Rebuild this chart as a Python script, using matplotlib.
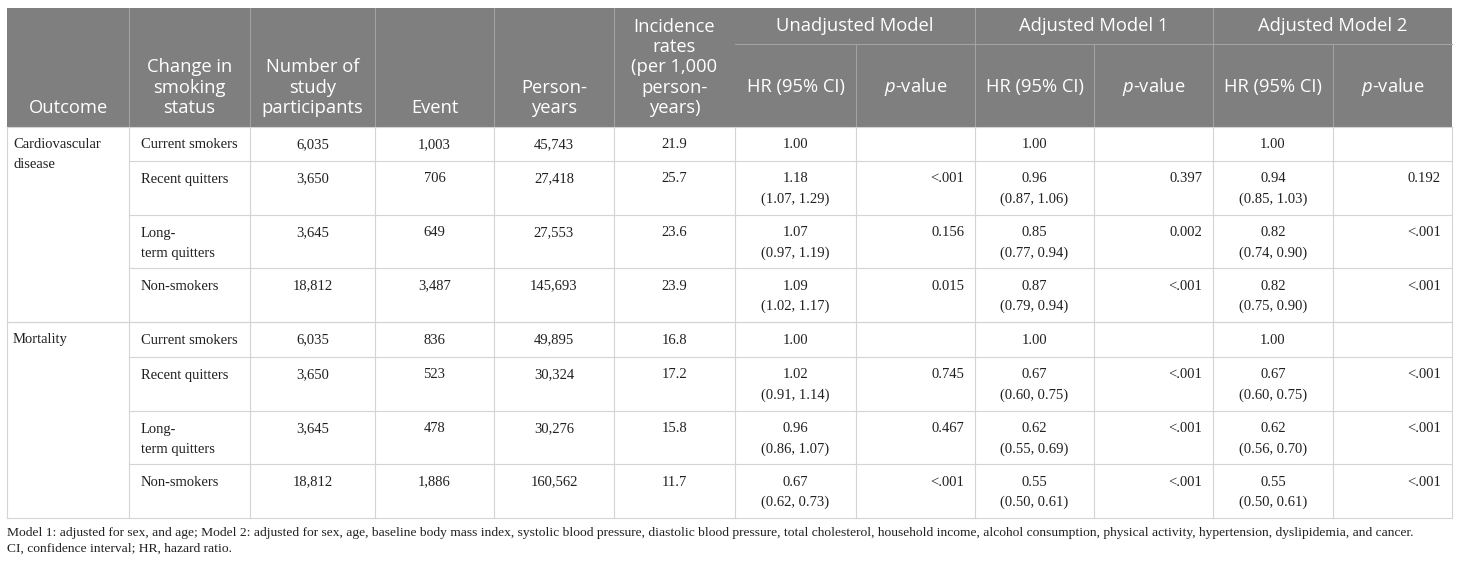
import matplotlib.pyplot as plt

plt.rcParams['mathtext.fontset'] = 'custom'
plt.rcParams['mathtext.it'] = 'Open Sans:italic'
plt.rcParams['mathtext.rm'] = 'Open Sans'

# data
outcomes = ['Cardiovascular\ndisease', 'Mortality']
status = ['Current smokers', 'Recent quitters', 'Long-\nterm quitters', 'Non-smokers']
participants = ['6,035', '3,650', '3,645', '18,812']
events = [['1,003', '706', '649', '3,487'],
          ['836', '523', '478', '1,886']]
person_years = [['45,743', '27,418', '27,553', '145,693'],
                ['49,895', '30,324', '30,276', '160,562']]
incidence = [['21.9', '25.7', '23.6', '23.9'],
             ['16.8', '17.2', '15.8', '11.7']]
hr_unadj = [['1.00', '1.18\n(1.07, 1.29)', '1.07\n(0.97, 1.19)', '1.09\n(1.02, 1.17)'],
            ['1.00', '1.02\n(0.91, 1.14)', '0.96\n(0.86, 1.07)', '0.67\n(0.62, 0.73)']]
p_unadj = [['', '<.001', '0.156', '0.015'],
           ['', '0.745', '0.467', '<.001']]
hr_adj1 = [['1.00', '0.96\n(0.87, 1.06)', '0.85\n(0.77, 0.94)', '0.87\n(0.79, 0.94)'],
           ['1.00', '0.67\n(0.60, 0.75)', '0.62\n(0.55, 0.69)', '0.55\n(0.50, 0.61)']]
p_adj1 = [['', '0.397', '0.002', '<.001'],
          ['', '<.001', '<.001', '<.001']]
hr_adj2 = [['1.00', '0.94\n(0.85, 1.03)', '0.82\n(0.74, 0.90)', '0.82\n(0.75, 0.90)'],
           ['1.00', '0.67\n(0.60, 0.75)', '0.62\n(0.56, 0.70)', '0.55\n(0.50, 0.61)']]
p_adj2 = [['', '0.192', '<.001', '<.001'],
          ['', '<.001', '<.001', '<.001']]

head_cols = ['Outcome', 'Change in\nsmoking\nstatus', 'Number of\nstudy\nparticipants', 'Event',
             'Person-\nyears', 'Incidence\nrates\n(per 1,000\nperson-\nyears)']
groups = ['Unadjusted Model', 'Adjusted Model 1', 'Adjusted Model 2']
sub_heads = ['HR (95% CI)', '$p$-value']
notes = ['Model 1: adjusted for sex, and age; Model 2: adjusted for sex, age, baseline body mass index, '
         'systolic blood pressure, diastolic blood pressure, total cholesterol, household income, alcohol '
         'consumption, physical activity, hypertension, dyslipidemia, and cancer.',
         'CI, confidence interval; HR, hazard ratio.']

# layout (pixels)
xs = [7, 129, 250, 375, 494, 614, 735, 856, 975, 1094, 1213, 1333, 1452]
head_top, head_mid, head_bot = 8, 44, 127
row_edges = [[127, 161, 215, 268, 322], [322, 357, 411, 464, 518]]
head_bg = '#7f7f7f'
head_line = '#a3a3a3'
grid = '#d4d4d4'
body_color = '#231f20'
serif = 'Liberation Serif'
sans = 'Open Sans'
body_fs = 10.5
head_fs = 13.2

fig = plt.figure(figsize=(14.6, 5.64), dpi=100)
ax = fig.add_axes([0, 0, 1, 1])
ax.set_xlim(0, 1460)
ax.set_ylim(564, 0)
ax.axis('off')

# header
ax.fill_between([xs[0], xs[-1]], head_top, head_bot, color=head_bg, lw=0)
for x in xs[1:6] + [xs[8], xs[10]]:
    ax.plot([x, x], [head_top, head_bot], color=head_line, lw=0.8)
for x in [xs[7], xs[9], xs[11]]:
    ax.plot([x, x], [head_mid, head_bot], color=head_line, lw=0.8)
ax.plot([xs[6], xs[-1]], [head_mid, head_mid], color=head_line, lw=0.8)

for i, label in enumerate(head_cols):
    lines = label.split('\n')
    cx = (xs[i] + xs[i + 1]) / 2
    for k, line in enumerate(lines):
        y = 108 - 20.3 * (len(lines) - 1 - k)
        ax.text(cx, y, line, ha='center', va='center', color='white',
                family=sans, fontsize=head_fs)
for g, label in enumerate(groups):
    cx = (xs[6 + 2 * g] + xs[8 + 2 * g]) / 2
    ax.text(cx, 26, label, ha='center', va='center', color='white', family=sans, fontsize=head_fs)
    for s, sub in enumerate(sub_heads):
        c = 6 + 2 * g + s
        ax.text((xs[c] + xs[c + 1]) / 2, 87, sub, ha='center', va='center', color='white',
                family=sans, fontsize=head_fs)


def cell(text, col, top, align='center'):
    for k, line in enumerate(text.split('\n')):
        y = top + 18 + 20 * k
        if align == 'center':
            x = (xs[col] + xs[col + 1]) / 2
        elif align == 'left':
            x = xs[col] + (6 if col == 0 else 12)
        else:
            x = xs[col + 1] - 11
        ax.text(x, y, line, ha=align, va='center', color=body_color, family=serif, fontsize=body_fs)


# body
for g in range(2):
    edges = row_edges[g]
    ax.plot([xs[0], xs[-1]], [edges[0], edges[0]], color=grid, lw=0.8)
    ax.plot([xs[0], xs[-1]], [edges[-1], edges[-1]], color=grid, lw=0.8)
    for y in edges[1:-1]:
        ax.plot([xs[1], xs[-1]], [y, y], color=grid, lw=0.8)
    for x in xs:
        ax.plot([x, x], [edges[0], edges[-1]], color=grid, lw=0.8)
    cell(outcomes[g], 0, edges[0], 'left')
    for r in range(4):
        top = edges[r]
        cell(status[r], 1, top, 'left')
        cell(participants[r], 2, top)
        cell(events[g][r], 3, top)
        cell(person_years[g][r], 4, top)
        cell(incidence[g][r], 5, top)
        cell(hr_unadj[g][r], 6, top)
        cell(p_unadj[g][r], 7, top, 'right')
        cell(hr_adj1[g][r], 8, top)
        cell(p_adj1[g][r], 9, top, 'right')
        cell(hr_adj2[g][r], 10, top)
        cell(p_adj2[g][r], 11, top, 'right')

# footnotes
ax.text(7, 533, notes[0], ha='left', va='center', color=body_color, family=serif, fontsize=9.7)
ax.text(7, 549, notes[1], ha='left', va='center', color=body_color, family=serif, fontsize=9.7)

fig.savefig('out.png', dpi=100)
